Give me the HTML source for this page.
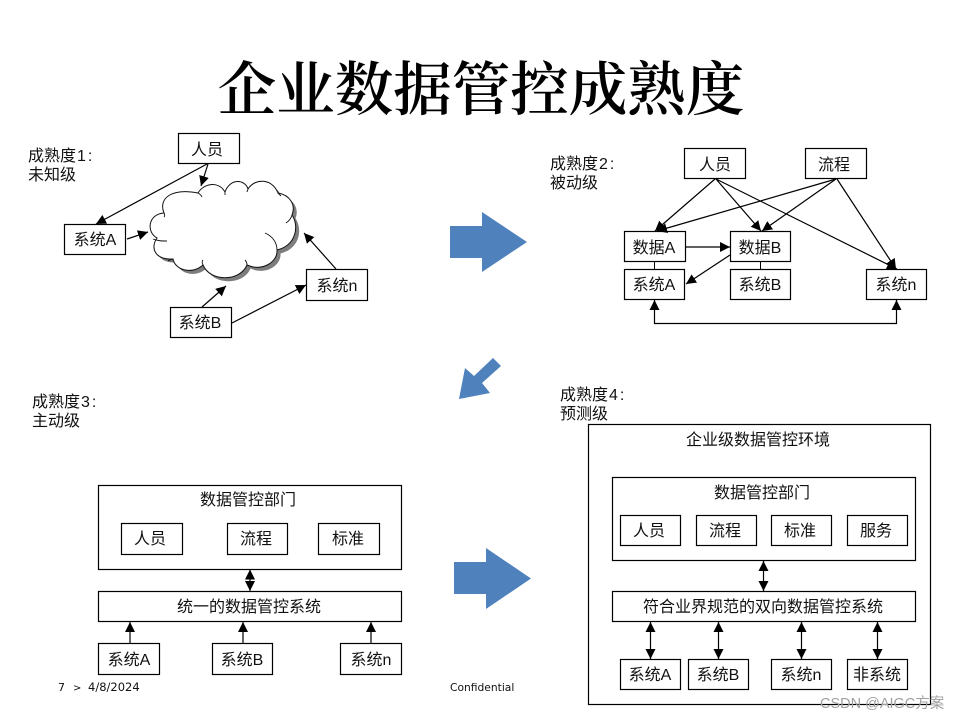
<!DOCTYPE html>
<html><head><meta charset="utf-8"><style>
html,body{margin:0;padding:0;background:#fff;width:960px;height:720px;overflow:hidden}
svg{display:block}
text{font-family:"Liberation Sans","Noto Sans CJK SC",sans-serif;font-size:16px;fill:#111}
.c{text-anchor:middle}
.b rect,rect.b{fill:#fff;stroke:#000;stroke-width:1.2}
.l line,.l path{stroke:#000;stroke-width:1.2;fill:none;marker-end:url(#a)}
.d line,.d path{stroke:#000;stroke-width:1.2;fill:none;marker-start:url(#s);marker-end:url(#a)}
</style></head><body>
<svg width="960" height="720" viewBox="0 0 960 720" xmlns="http://www.w3.org/2000/svg">
<defs>
<marker id="a" markerUnits="userSpaceOnUse" markerWidth="11" markerHeight="11" refX="10" refY="5" orient="auto"><path d="M0,0L10,5L0,10Z" fill="#000"/></marker>
<marker id="s" markerUnits="userSpaceOnUse" markerWidth="11" markerHeight="11" refX="0" refY="5" orient="auto"><path d="M10,0L0,5L10,10Z" fill="#000"/></marker>
</defs>
<text x="481" y="110" class="c" style="font-family:'Noto Serif CJK SC',serif;font-weight:600;font-size:58.500px;fill:#000">企业数据管控成熟度</text>

<!-- Level 1 -->
<text x="28" y="161">成熟度<tspan dx="1">1</tspan><tspan dx="2">:</tspan></text><text x="28" y="180">未知级</text>
<path d="M164,213C158,198 172,188 198,193C203,184 218,180 225,192C230,178 245,179 248,189C255,178 272,178 278,193C290,195 296,205 292,215C299,225 297,245 277,250C278,262 262,272 247,265C240,282 210,282 203,265C192,275 175,270 173,259C155,260 150,248 157,238C146,232 148,214 164,213Z" fill="#7d7d7d" transform="translate(3.500,3.500)"/>
<path d="M164,213C158,198 172,188 198,193C203,184 218,180 225,192C230,178 245,179 248,189C255,178 272,178 278,193C290,195 296,205 292,215C299,225 297,245 277,250C278,262 262,272 247,265C240,282 210,282 203,265C192,275 175,270 173,259C155,260 150,248 157,238C146,232 148,214 164,213Z" fill="#fff" stroke="#111" stroke-width="1"/>
<path d="M153,239C158,241 162,241 167,241M164,213C165,215 165,216 164,217M198,193C200,194 201,195 202,197M225,192C225,193 225,194 225,195M248,189C248,190 247,191 247,192M278,193C279,194 280,195 281,196M292,215C291,219 289,221 286,223M265,233C272,236 277,242 277,250M247,265C247,263 246,261 245,260M203,265C202,263 202,261 203,260M173,259C170,260 169,260 168,261" fill="none" stroke="#111" stroke-width=".9"/>
<g class="b">
<rect x="178.500" y="133.500" width="61" height="30"/><rect x="64.500" y="224.500" width="61" height="30"/>
<rect x="170.500" y="307.500" width="61" height="30"/><rect x="306.500" y="269.500" width="61" height="31"/>
</g>
<text x="207" y="155" class="c">人员</text><text x="95" y="245" class="c">系统A</text>
<text x="200" y="328" class="c">系统B</text><text x="337" y="291" class="c">系统n</text>
<g class="l">
<line x1="208" y1="164" x2="201" y2="186"/><line x1="207" y1="164" x2="96" y2="224"/>
<line x1="127" y1="239" x2="148" y2="232"/><line x1="202" y1="307" x2="226" y2="286"/>
<line x1="232" y1="323" x2="306" y2="285"/><line x1="336" y1="269" x2="304" y2="233"/>
</g>

<!-- Level 2 -->
<text x="550" y="169">成熟度<tspan dx="1">2</tspan><tspan dx="2">:</tspan></text><text x="550" y="188">被动级</text>
<g class="b">
<rect x="684.500" y="148.500" width="61" height="30"/><rect x="805.500" y="148.500" width="61" height="30"/>
<rect x="624.500" y="231.500" width="61" height="30"/><rect x="730.500" y="231.500" width="60" height="30"/>
<rect x="624.500" y="269.500" width="60" height="30"/><rect x="730.500" y="269.500" width="60" height="30"/>
<rect x="866.500" y="269.500" width="60" height="30"/>
</g>
<text x="715" y="170" class="c">人员</text><text x="834" y="170" class="c">流程</text>
<text x="654" y="253" class="c">数据A</text><text x="760" y="253" class="c">数据B</text>
<text x="654" y="290" class="c">系统A</text><text x="760" y="290" class="c">系统B</text><text x="896" y="290" class="c">系统n</text>
<g class="l">
<line x1="715" y1="179" x2="655" y2="231"/><line x1="716" y1="179" x2="761" y2="231"/><line x1="716" y1="179" x2="897" y2="269"/>
<line x1="836" y1="179" x2="657" y2="231"/><line x1="836" y1="179" x2="762" y2="231"/><line x1="837" y1="179" x2="896" y2="269"/>
<line x1="685" y1="247" x2="730" y2="247"/><line x1="730" y1="255" x2="686" y2="284"/>
</g>
<path d="M654.500,262V269M760.500,262V269" stroke="#000" stroke-width="1"/>
<g class="d"><path d="M654.500,300V323.500H896.500V300"/></g>

<!-- arrows -->
<path d="M450,226H482V212L527,242L482,272V258H450Z" fill="#4F81BD"/>
<path d="M454,562H486V548L531,578.500L486,609V594H454Z" fill="#4F81BD"/>
<path d="M493,358L501,366L482,383L490,393L459,399L465,368L474,376Z" fill="#4F81BD"/>

<!-- Level 3 -->
<text x="32" y="407">成熟度<tspan dx="1">3</tspan><tspan dx="2">:</tspan></text><text x="32" y="426">主动级</text>
<g class="b">
<rect x="98.500" y="485.500" width="303" height="84"/>
<rect x="121.500" y="523.500" width="61" height="31"/><rect x="227.500" y="523.500" width="60" height="31"/><rect x="318.500" y="523.500" width="61" height="31"/>
<rect x="98.500" y="591.500" width="303" height="30"/>
<rect x="98.500" y="643.500" width="61" height="31"/><rect x="212.500" y="643.500" width="60" height="31"/><rect x="340.500" y="643.500" width="61" height="31"/>
</g>
<text x="248" y="505" class="c">数据管控部门</text>
<text x="150" y="544" class="c">人员</text><text x="256" y="544" class="c">流程</text><text x="348" y="544" class="c">标准</text>
<text x="249" y="612" class="c">统一的数据管控系统</text>
<text x="129" y="665" class="c">系统A</text><text x="242" y="665" class="c">系统B</text><text x="371" y="665" class="c">系统n</text>
<g class="d"><line x1="250" y1="569.500" x2="250" y2="591"/></g>
<g class="l"><line x1="130" y1="643" x2="130" y2="622"/><line x1="243" y1="643" x2="243" y2="622"/><line x1="371" y1="643" x2="371" y2="622"/></g>
<text x="58" y="691" style="font-family:'DejaVu Sans',sans-serif;font-size:11px">7</text>
<text x="73" y="691" style="font-family:'DejaVu Sans',sans-serif;font-size:10px">&gt;</text>
<text x="88" y="691" style="font-family:'DejaVu Sans',sans-serif;font-size:11.500px">4/8/2024</text>
<text x="450" y="691" style="font-family:'DejaVu Sans',sans-serif;font-size:10.700px">Confidential</text>

<!-- Level 4 -->
<text x="560" y="400">成熟度<tspan dx="1">4</tspan><tspan dx="2">:</tspan></text><text x="560" y="419">预测级</text>
<g class="b">
<rect x="588.500" y="424.500" width="342" height="280"/>
<rect x="612.500" y="477.500" width="303" height="83"/>
<rect x="620.500" y="515.500" width="60" height="30"/><rect x="696.500" y="515.500" width="60" height="30"/><rect x="771.500" y="515.500" width="60" height="30"/><rect x="847.500" y="515.500" width="60" height="30"/>
<rect x="612.500" y="591.500" width="303" height="30"/>
<rect x="620.500" y="659.500" width="60" height="30"/><rect x="688.500" y="659.500" width="60" height="30"/><rect x="771.500" y="659.500" width="60" height="30"/><rect x="847.500" y="659.500" width="60" height="30"/>
</g>
<text x="758" y="445" class="c">企业级数据管控环境</text>
<text x="762" y="498" class="c">数据管控部门</text>
<text x="649" y="536" class="c">人员</text><text x="725" y="536" class="c">流程</text><text x="800" y="536" class="c">标准</text><text x="876" y="536" class="c">服务</text>
<text x="763" y="612" class="c">符合业界规范的双向数据管控系统</text>
<text x="650" y="680" class="c">系统A</text><text x="718" y="680" class="c">系统B</text><text x="801" y="680" class="c">系统n</text><text x="877" y="680" class="c">非系统</text>
<g class="d">
<line x1="763.500" y1="561" x2="763.500" y2="591"/>
<line x1="650.500" y1="622" x2="650.500" y2="659"/><line x1="718.500" y1="622" x2="718.500" y2="659"/>
<line x1="801.500" y1="622" x2="801.500" y2="659"/><line x1="877.500" y1="622" x2="877.500" y2="659"/>
</g>
<text x="820" y="708" style="font-size:14.500px;fill:#a0a0a0">CSDN @AIGC方案</text>
</svg>
</body></html>
